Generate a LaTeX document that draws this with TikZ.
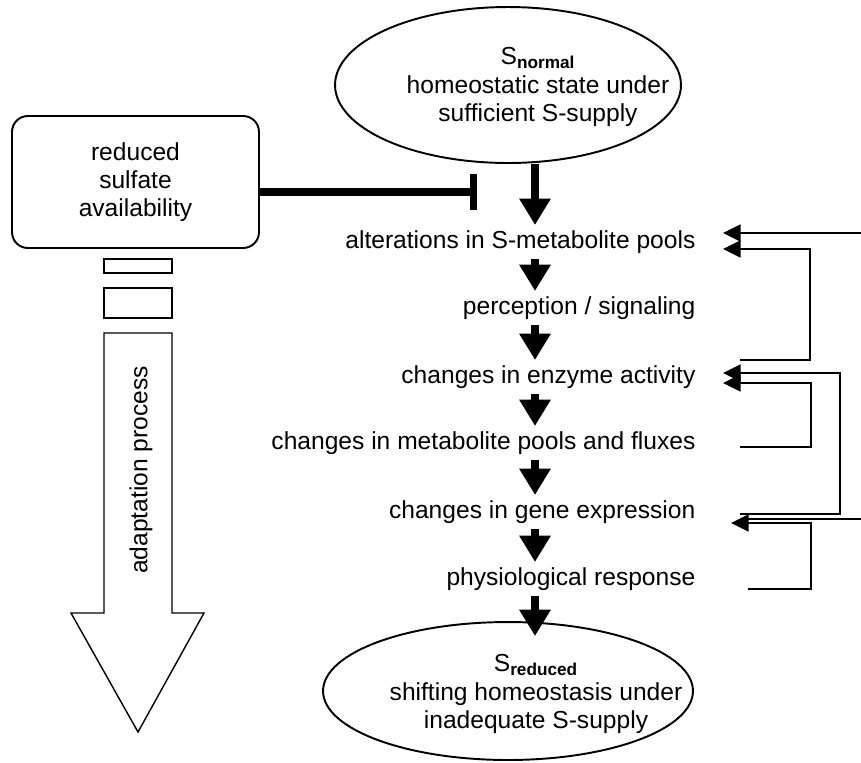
\documentclass[tikz,border=0pt]{standalone}
\usepackage{fontspec}
\setmainfont{Liberation Sans}
\usetikzlibrary{arrows.meta,shapes.geometric,calc}
\tikzset{%
  state/.style    = {ellipse, draw, line width=1.1pt, inner sep=0pt},%
  statetext/.style= {align=center, inner sep=0pt, font=\fontsize{14}{16}\selectfont},%
  stage/.style    = {anchor=east, inner sep=3pt, text height=10pt, text depth=3pt,%
                     font=\fontsize{14}{16}\selectfont},%
  cause/.style    = {draw, rounded corners=9pt, line width=1.1pt,%
                     align=center, font=\fontsize{14}{16}\selectfont},%
  gap/.style      = {draw, line width=0.8pt, inner sep=0pt, minimum width=1.36cm},%
  push/.style     = {line width=4.5pt, -{Triangle[length=15pt,width=17pt]}},%
  inhibit/.style  = {line width=4pt, -{Bar[width=21pt]}},%
  feedback/.style = {line width=1.4pt, -{Triangle[length=10pt,width=9.5pt]}}%
}
\begin{document}
\begin{tikzpicture}
[x=0.02cm,y=-0.02cm]
	\useasboundingbox (0,0) rectangle (861,762);
	\node [state, minimum width=6.92cm, minimum height=3.12cm] (snormal) at (508,85) {};
	\node [statetext] (snormaltext) at (538,87)
		{S\textsubscript{\bfseries normal}\\homeostatic state under\\sufficient S-supply};
	\node [state, minimum width=7.4cm, minimum height=2.76cm] (sreduced) at (508,691) {};
	\node [statetext] (sreducedtext) at (536,694)
		{S\textsubscript{\bfseries reduced}\\shifting homeostasis under\\inadequate S-supply};
	\node [cause, minimum width=4.94cm, minimum height=2.64cm] (sulfate) at (135.5,182)
		{reduced\\sulfate\\availability};
	\node [gap, minimum height=0.28cm] (gapA) at (138,266) {};
	\node [gap, minimum height=0.6cm] (gapB) at (138,303) {};
	% adaptation arrow
	\draw [line width=0.8pt] (104,333) -- (172,333) -- (172,613) -- (204,613)
		-- (138,732) -- (71,613) -- (104,613) -- cycle;
	\node [rotate=90, font=\fontsize{14}{16}\selectfont] (adapt) at (141,470) {adaptation process};
	% cascade
	\node [stage] (alter)   at (701,242) {alterations in S-metabolite pools};
	\node [stage] (percept) at (701,308) {perception / signaling};
	\node [stage] (enzyme)  at (701,377) {changes in enzyme activity};
	\node [stage] (metab)   at (701,443) {changes in metabolite pools and fluxes};
	\node [stage] (gene)    at (701,512) {changes in gene expression};
	\node [stage] (physio)  at (701,579) {physiological response};
	\coordinate (col) at (535,0);
	\coordinate (land) at ($(sreduced.north -| col)+(0,15)$);
	\draw [push] (snormal.south -| col) -- (alter.north -| col);
	\draw [push] (alter.south -| col) -- (percept.north -| col);
	\draw [push] (percept.south -| col) -- (enzyme.north -| col);
	\draw [push] (enzyme.south -| col) -- (metab.north -| col);
	\draw [push] (metab.south -| col) -- (gene.north -| col);
	\draw [push] (gene.south -| col) -- (physio.north -| col);
	\draw [push] (physio.south -| col) -- (land);
	\coordinate (block) at (477,192);
	\draw [inhibit] (sulfate.east |- block) -- (block);
	% feedback loops
	\coordinate (inA) at (723,233);
	\coordinate (inB) at (723,249);
	\coordinate (inC) at (723,373);
	\coordinate (inD) at (723,383);
	\coordinate (inE) at (731,523);
	\coordinate (outA) at (740,360);
	\coordinate (outB) at (740,447);
	\coordinate (outC) at (740,514);
	\coordinate (outD) at (748,589);
	\coordinate (edgeA) at (861,233);
	\coordinate (edgeB) at (861,519);
	\coordinate (joinE) at (745,519);
	\draw [feedback] (edgeA) -- (inA);
	\draw [feedback] (outA) -- ++(70,0) |- (inB);
	\draw [feedback] (outC) -- ++(100,0) |- (inC);
	\draw [feedback] (outB) -- ++(71,0) |- (inD);
	\draw [feedback] (outD) -- ++(63,0) |- (inE);
	\draw [line width=1.4pt] (edgeB) -- (joinE);
\end{tikzpicture}
\end{document}
